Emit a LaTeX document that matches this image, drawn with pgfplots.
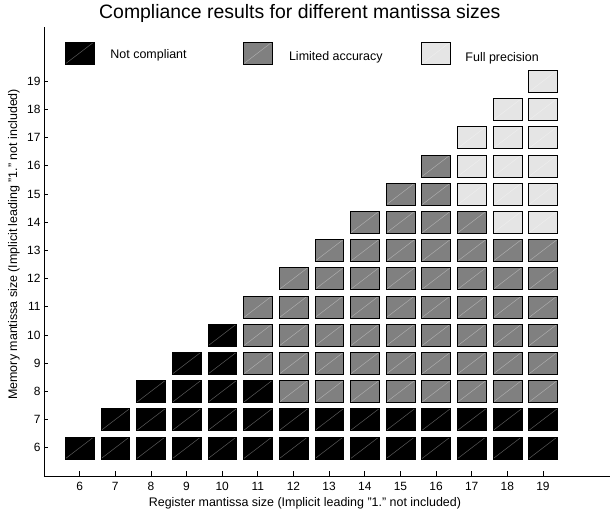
\documentclass[border=0pt]{standalone}
\usepackage{fontspec}
\setmainfont{Liberation Sans}
\usepackage{pgfplots}
\pgfplotsset{compat=1.18}
\definecolor{cgray}{gray}{0.5}
\definecolor{clight}{gray}{0.9}
\pgfdeclareplotmark{cell}{%
  \pgfpathrectangle{\pgfpoint{-14.4bp}{-11bp}}{\pgfpoint{28.8bp}{22bp}}%
  \pgfusepath{fill}%
  \begin{pgfscope}%
    \pgfsetstrokecolor{white}\pgfsetstrokeopacity{0.35}\pgfsetlinewidth{0.5bp}%
    \pgfpathmoveto{\pgfpoint{-14.4bp}{-11bp}}%
    \pgfpathlineto{\pgfpoint{14.4bp}{11bp}}%
    \pgfusepath{stroke}%
  \end{pgfscope}%
  \pgfpathrectangle{\pgfpoint{-14.4bp}{-11bp}}{\pgfpoint{28.8bp}{22bp}}%
  \pgfusepath{stroke}%
}
\begin{document}
\begin{tikzpicture}
\begin{axis}[
  name=ax,
  scale only axis,
  width=566bp, height=449bp,
  xmin=5, xmax=20.88, ymin=5, ymax=20.92,
  axis lines*=left,
  axis line style={line width=0.8bp, black},
  tick align=inside,
  major tick length=4.5bp,
  tick style={line width=0.8bp, black},
  xtick={6,...,19}, ytick={6,...,19},
  /pgf/number format/assume math mode=true,
  ticklabel style={font=\fontsize{12}{14}\selectfont},
  xticklabel style={yshift=-3bp},
  clip=false,
  title={Compliance results for different mantissa sizes},
  title style={at={(rel axis cs:0.452,1)}, anchor=base, yshift=3bp, font=\fontsize{19.5}{23}\selectfont},
  xlabel={Register mantissa size (Implicit leading "1." not included)},
  xlabel style={at={(rel axis cs:0.461,-0.06)}, anchor=center, font=\fontsize{12.5}{15}\selectfont},
  ylabel={Memory mantissa size (Implicit leading "1." not included)},
  ylabel style={at={(rel axis cs:-0.053,0.516)}, anchor=center, font=\fontsize{12.5}{15}\selectfont},
  every axis plot/.append style={only marks, mark=cell, mark options={line width=2bp, draw=black!90}},
]
% Not compliant
\addplot[mark options={fill=black}] coordinates {
 (6,6)
 (7,6) (7,7)
 (8,6) (8,7) (8,8)
 (9,6) (9,7) (9,8) (9,9)
 (10,6) (10,7) (10,8) (10,9) (10,10)
 (11,6) (11,7) (11,8)
 (12,6) (12,7) (13,6) (13,7) (14,6) (14,7) (15,6) (15,7)
 (16,6) (16,7) (17,6) (17,7) (18,6) (18,7) (19,6) (19,7)
};
% Limited accuracy
\addplot[mark options={fill=cgray}] coordinates {
 (11,9) (11,10) (11,11)
 (12,8) (12,9) (12,10) (12,11) (12,12)
 (13,8) (13,9) (13,10) (13,11) (13,12) (13,13)
 (14,8) (14,9) (14,10) (14,11) (14,12) (14,13) (14,14)
 (15,8) (15,9) (15,10) (15,11) (15,12) (15,13) (15,14) (15,15)
 (16,8) (16,9) (16,10) (16,11) (16,12) (16,13) (16,14) (16,15) (16,16)
 (17,8) (17,9) (17,10) (17,11) (17,12) (17,13) (17,14)
 (18,8) (18,9) (18,10) (18,11) (18,12) (18,13)
 (19,8) (19,9) (19,10) (19,11) (19,12) (19,13)
};
% Full precision
\addplot[mark options={fill=clight}] coordinates {
 (17,15) (17,16) (17,17)
 (18,14) (18,15) (18,16) (18,17) (18,18)
 (19,14) (19,15) (19,16) (19,17) (19,18) (19,19)
};
% legend squares
\addplot[mark options={fill=black}] coordinates {(6,20)};
\addplot[mark options={fill=cgray}] coordinates {(11,20)};
\addplot[mark options={fill=clight}] coordinates {(16,20)};
\node[anchor=base west, inner sep=0pt, font=\fontsize{12.5}{15}\selectfont] at (axis cs:6.86,19.80) {Not compliant};
\node[anchor=base west, inner sep=0pt, font=\fontsize{12.5}{15}\selectfont] at (axis cs:11.87,19.74) {Limited accuracy};
\node[anchor=base west, inner sep=0pt, font=\fontsize{12.5}{15}\selectfont] at (axis cs:16.82,19.70) {Full precision};
\end{axis}
\pgfresetboundingbox
\path[use as bounding box] ([xshift=-44bp,yshift=-40bp]ax.south west) rectangle ([yshift=27bp]ax.north east);
\end{tikzpicture}
\end{document}
